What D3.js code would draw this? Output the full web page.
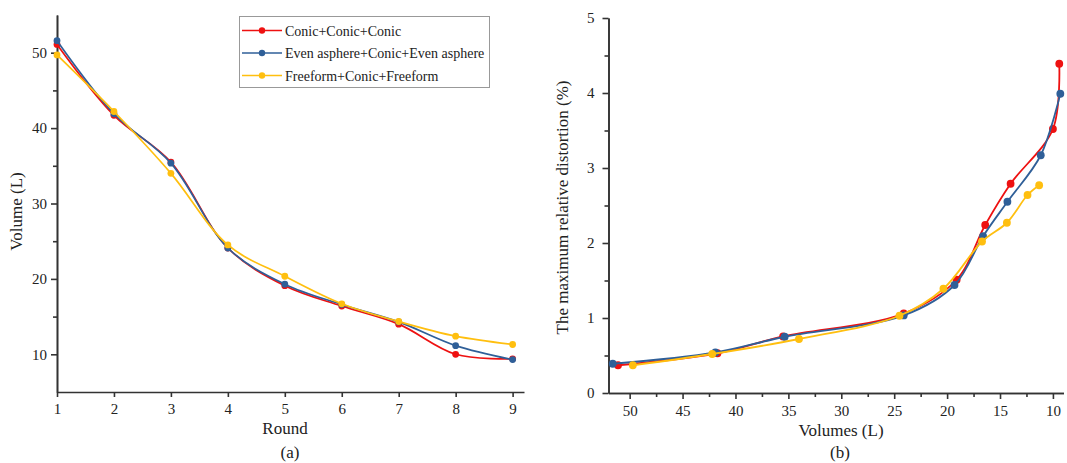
<!DOCTYPE html>
<html>
<head>
<meta charset="utf-8">
<script src="https://d3js.org/d3.v7.min.js"></script>
<style>
  body { margin: 0; background: #fff; }
  svg { display: block; }
  text { font-family: "Liberation Serif", "Times New Roman", serif; fill: #222; }
</style>
</head>
<body>
<div id="chart"></div>
<script>
// values
const rounds = [1, 2, 3, 4, 5, 6, 7, 8, 9];
const seriesNames = ["Conic+Conic+Conic", "Even asphere+Conic+Even asphere", "Freeform+Conic+Freeform"];
const seriesColors = ["#ee1111", "#2f5f98", "#ffbf0f"];

const volConic = [51.1, 41.7, 35.5, 24.1, 19.1, 16.4, 14.0, 10.0, 9.4];
const volEven  = [51.6, 41.9, 35.35, 24.1, 19.3, 16.6, 14.3, 11.15, 9.3];
const volFree  = [49.7, 42.2, 34.0, 24.5, 20.35, 16.7, 14.35, 12.4, 11.3];

const distConic = [0.37, 0.53, 0.755, 1.06, 1.51, 2.24, 2.79, 3.52, 4.39];
const distEven  = [0.39, 0.54, 0.75, 1.035, 1.44, 2.09, 2.55, 3.17, 3.99];
const distFree  = [0.37, 0.52, 0.72, 1.03, 1.39, 2.02, 2.27, 2.64, 2.77];

const leftTicksY = [10, 20, 30, 40, 50];
const rightTicksX = [50, 45, 40, 35, 30, 25, 20, 15, 10];
const rightTicksY = [0, 1, 2, 3, 4, 5];

const volumes = [volConic, volEven, volFree];
const dists = [distConic, distEven, distFree];

const W = 1067, H = 463;
const svg = d3.select("#chart").append("svg")
  .attr("width", W).attr("height", H);

const axisColor = "#333";

function styleAxis(g) {
  g.selectAll("path, line").attr("stroke", axisColor).attr("stroke-width", 1.6);
  g.selectAll("text").style("font-size", "15px").attr("fill", "#222");
}

// ---------- (a) Round vs Volume ----------
const xA = d3.scaleLinear().domain([1, 9.2]).range([57, 524]);
const yA = d3.scaleLinear().domain([5, 55]).range([392, 15]);

const gA = svg.append("g");

gA.append("g")
  .attr("transform", `translate(0,${yA(5)})`)
  .call(d3.axisBottom(xA).tickValues(rounds).tickFormat(d3.format("d")).tickSize(5).tickSizeOuter(0).tickPadding(6))
  .call(styleAxis);

gA.append("g")
  .attr("transform", `translate(${xA(1)},0)`)
  .call(d3.axisLeft(yA).tickValues([15, 25, 35, 45]).tickFormat("").tickSize(4).tickSizeOuter(0))
  .call(styleAxis);

gA.append("g")
  .attr("transform", `translate(${xA(1)},0)`)
  .call(d3.axisLeft(yA).tickValues(leftTicksY).tickSize(6).tickSizeOuter(0).tickPadding(4))
  .call(styleAxis);

const lineA = d3.line()
  .x((d, i) => xA(rounds[i]))
  .y(d => yA(d))
  .curve(d3.curveCatmullRom.alpha(0.5));

volumes.forEach((vals, s) => {
  gA.append("path")
    .attr("d", lineA(vals))
    .attr("fill", "none")
    .attr("stroke", seriesColors[s])
    .attr("stroke-width", 1.7);
  gA.selectAll(null)
    .data(vals)
    .enter().append("circle")
    .attr("cx", (d, i) => xA(rounds[i]))
    .attr("cy", d => yA(d))
    .attr("r", 3.4)
    .attr("fill", seriesColors[s]);
});

gA.append("text")
  .attr("transform", `translate(22,${(yA(55) + yA(5)) / 2 + 8}) rotate(-90)`)
  .attr("text-anchor", "middle")
  .style("font-size", "17px")
  .text("Volume (L)");

gA.append("text")
  .attr("x", 285).attr("y", 434)
  .attr("text-anchor", "middle")
  .style("font-size", "17px")
  .text("Round");

gA.append("text")
  .attr("x", 290).attr("y", 458)
  .attr("text-anchor", "middle")
  .style("font-size", "17px")
  .text("(a)");

// legend
const legend = gA.append("g");
legend.append("rect")
  .attr("x", 239.5).attr("y", 16.5)
  .attr("width", 250).attr("height", 71)
  .attr("fill", "#fff")
  .attr("stroke", "#999")
  .attr("stroke-width", 1);

seriesNames.forEach((name, s) => {
  const ly = 30.5 + s * 22.5;
  legend.append("line")
    .attr("x1", 242).attr("x2", 282)
    .attr("y1", ly).attr("y2", ly)
    .attr("stroke", seriesColors[s])
    .attr("stroke-width", 1.7);
  legend.append("circle")
    .attr("cx", 262).attr("cy", ly).attr("r", 3.2)
    .attr("fill", seriesColors[s]);
  legend.append("text")
    .attr("x", 285).attr("y", ly + 5)
    .style("font-size", "14px")
    .text(name);
});

// ---------- (b) Volume vs distortion ----------
const xB = d3.scaleLinear().domain([52, 9]).range([608.5, 1063.5]);
const yB = d3.scaleLinear().domain([0, 5]).range([393, 18]);

const gB = svg.append("g");

gB.append("g")
  .attr("transform", `translate(0,${yB(0)})`)
  .call(d3.axisBottom(xB).tickValues([47.5, 42.5, 37.5, 32.5, 27.5, 22.5, 17.5, 12.5]).tickFormat("").tickSize(4).tickSizeOuter(0))
  .call(styleAxis);

gB.append("g")
  .attr("transform", `translate(0,${yB(0)})`)
  .call(d3.axisBottom(xB).tickValues(rightTicksX).tickFormat(d3.format("d")).tickSize(6).tickSizeOuter(0).tickPadding(6))
  .call(styleAxis);

gB.append("g")
  .attr("transform", `translate(${xB(52)},0)`)
  .call(d3.axisLeft(yB).tickValues([0.5, 1.5, 2.5, 3.5, 4.5]).tickFormat("").tickSize(4).tickSizeOuter(0))
  .call(styleAxis);

gB.append("g")
  .attr("transform", `translate(${xB(52)},0)`)
  .call(d3.axisLeft(yB).tickValues(rightTicksY).tickFormat(d3.format("d")).tickSize(6).tickSizeOuter(0).tickPadding(8))
  .call(styleAxis);

const lineB = d3.line()
  .x(d => xB(d[0]))
  .y(d => yB(d[1]))
  .curve(d3.curveCatmullRom.alpha(0.5));

dists.forEach((vals, s) => {
  const pts = vals.map((v, i) => [volumes[s][i], v]);
  gB.append("path")
    .attr("d", lineB(pts))
    .attr("fill", "none")
    .attr("stroke", seriesColors[s])
    .attr("stroke-width", 1.8);
  gB.selectAll(null)
    .data(pts)
    .enter().append("circle")
    .attr("cx", d => xB(d[0]))
    .attr("cy", d => yB(d[1]))
    .attr("r", 3.9)
    .attr("fill", seriesColors[s]);
});

gB.append("text")
  .attr("transform", `translate(568,${(yB(0) + yB(5)) / 2 + 2}) rotate(-90)`)
  .attr("text-anchor", "middle")
  .style("font-size", "17px")
  .text("The maximum relative distortion (%)");

gB.append("text")
  .attr("x", 841).attr("y", 436)
  .attr("text-anchor", "middle")
  .style("font-size", "17px")
  .text("Volumes (L)");

gB.append("text")
  .attr("x", 840).attr("y", 458)
  .attr("text-anchor", "middle")
  .style("font-size", "17px")
  .text("(b)");
</script>
</body>
</html>
